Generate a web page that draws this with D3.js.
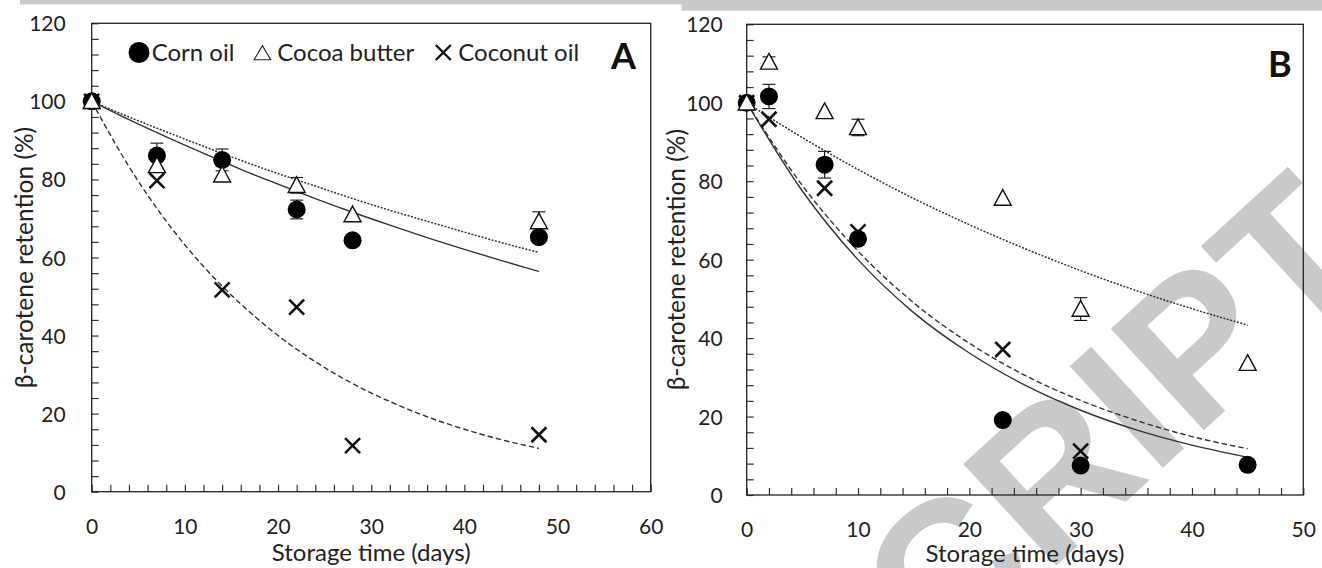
<!DOCTYPE html>
<html><head><meta charset="utf-8">
<script src="https://cdn.jsdelivr.net/npm/d3@7"></script>
<style>
html,body{margin:0;padding:0;background:#fff;}
svg{display:block;}
text{font-family:Lato,"Open Sans",sans-serif;fill:#222;}
</style></head><body>
<svg id="chart" width="1322" height="568"></svg>
<script>
// ---------- data ----------
const daysA = [0, 7, 14, 22, 28, 48];
const cornA = [100, 86.1, 85.0, 72.3, 64.4, 65.2];
const cornSdA = [0, 3.2, 2.8, 2.4, 0, 0];
const cocoaA = [100, 83.6, 81.2, 78.5, 71.0, 69.2];
const cocoaSdA = [0, 0, 0, 2.0, 0, 2.5];
const coconutA = [100, 79.7, 51.7, 47.3, 11.8, 14.6];

const daysB = [0, 2, 7, 10, 23, 30, 45];
const cornB = [100, 101.6, 84.2, 65.3, 19.1, 7.5, 7.7];
const cornSdB = [0, 3.1, 3.4, 0, 0, 0, 0];
const cocoaB = [100, 110.4, 97.8, 93.7, 75.7, 47.4, 33.6];
const cocoaSdB = [0, 1.3, 0, 2.1, 0, 2.9, 0];
const coconutDaysB = [0, 2, 7, 10, 23, 30];
const coconutB = [100, 95.8, 78.2, 67.1, 37.1, 11.2];

// fitted curves
const fitDaysA = [0, 4, 8, 12, 16, 20, 24, 28, 32, 36, 40, 44, 48];
const fitCornA = [100, 95.3, 90.9, 86.7, 82.6, 78.8, 75.1, 71.6, 68.3, 65.1, 62.1, 59.2, 56.4];
const fitCocoaA = [100, 96.0, 92.2, 88.5, 84.9, 81.5, 78.3, 75.1, 72.1, 69.3, 66.5, 63.8, 61.3];
const fitCoconutA = [100, 83.3, 69.3, 57.7, 48.1, 40.0, 33.3, 27.7, 23.1, 19.2, 16.0, 13.3, 11.1];

const fitDaysB = [0, 5, 10, 15, 20, 25, 30, 35, 40, 45];
const fitCornB = [100, 77.5, 60.0, 46.5, 36.2, 28.0, 21.6, 16.6, 12.7, 9.6];
const fitCocoaB = [100, 91.1, 83.0, 75.6, 68.9, 62.8, 57.2, 52.1, 47.5, 43.3];
const fitCoconutB = [100, 78.9, 62.2, 49.0, 38.7, 30.5, 24.1, 19.0, 14.9, 11.8];

const xTicksA = [0, 10, 20, 30, 40, 50, 60];
const xTicksB = [0, 10, 20, 30, 40, 50];
const yTicks = [0, 20, 40, 60, 80, 100, 120];
const legendLabels = ["Corn oil", "Cocoa butter", "Coconut oil"];
const panelLabels = ["A", "B"];
const xTitle = "Storage time (days)";
const yTitle = "β-carotene retention (%)";
const watermarkText = "CRIPT";

// ---------- drawing ----------
const svg = d3.select("#chart");
svg.append("rect").attr("width", 1322).attr("height", 568).attr("fill", "#fff");

// grey strips at the top (page crop remains)
svg.append("rect").attr("x", 20).attr("y", 0).attr("width", 662).attr("height", 4.4).attr("fill", "#c8c9cb");
svg.append("rect").attr("x", 681.5).attr("y", 0).attr("width", 641).attr("height", 10.7).attr("fill", "#c8c9cb");

// watermark (behind)
svg.append("text").text(watermarkText)
  .attr("transform", "translate(940,672) rotate(-42.5)")
  .style("font-family", "'Liberation Sans',Arial,sans-serif")
  .style("font-weight", "bold").style("font-size", "200px")
  .style("fill", "#c8c9cb");

const zip = (xs, ys, sd) => xs.map((d, i) => ({x: d, y: ys[i], sd: sd ? sd[i] : 0}));

const panels = [
  {
    label: panelLabels[0], xr: [91.7, 650.7], yr: [491.7, 23.3], xd: [0, 60], xTicks: xTicksA,
    minorX: d3.range(0, 61, 2), labelPos: [611, 69], ytPad: 26, yTitleX: 33, xTitleY: 561,
    corn: zip(daysA, cornA, cornSdA), cocoa: zip(daysA, cocoaA, cocoaSdA), coconut: zip(daysA, coconutA),
    fitCorn: zip(fitDaysA, fitCornA), fitCocoa: zip(fitDaysA, fitCocoaA), fitCoconut: zip(fitDaysA, fitCoconutA),
    legend: true
  },
  {
    label: panelLabels[1], xr: [746.7, 1303.3], yr: [495, 24.3], xd: [0, 50], xTicks: xTicksB,
    minorX: d3.range(0, 51, 2), labelPos: [1268, 76.7], ytPad: 24, yTitleX: 685, xTitleY: 562,
    corn: zip(daysB, cornB, cornSdB), cocoa: zip(daysB, cocoaB, cocoaSdB), coconut: zip(coconutDaysB, coconutB),
    fitCorn: zip(fitDaysB, fitCornB), fitCocoa: zip(fitDaysB, fitCocoaB), fitCoconut: zip(fitDaysB, fitCoconutB),
    legend: false
  }
];

const triPath = "M0,-8.5L8.5,7.2L-8.5,7.2Z";
const crossPath = "M-7.5,-7.5L7.5,7.5M-7.5,7.5L7.5,-7.5";

panels.forEach(p => {
  const x = d3.scaleLinear().domain(p.xd).range(p.xr);
  const y = d3.scaleLinear().domain([0, 120]).range(p.yr);
  const g = svg.append("g");
  const left = p.xr[0], right = p.xr[1], top = p.yr[1], bottom = p.yr[0];

  // minor ticks (inward)
  g.append("g").attr("transform", `translate(0,${bottom})`)
    .call(d3.axisBottom(x).tickValues(p.minorX).tickSize(-7).tickFormat(""))
    .call(a => a.select(".domain").remove())
    .call(a => a.selectAll("line").attr("stroke", "#333").attr("stroke-width", 1.2));
  g.append("g").attr("transform", `translate(${left},0)`)
    .call(d3.axisLeft(y).tickValues(d3.range(0, 121, 4)).tickSize(-7).tickFormat(""))
    .call(a => a.select(".domain").remove())
    .call(a => a.selectAll("line").attr("stroke", "#333").attr("stroke-width", 1.2));

  // tick labels
  g.append("g").attr("transform", `translate(0,${bottom})`)
    .call(d3.axisBottom(x).tickValues(p.xTicks).tickSize(0).tickPadding(27).tickFormat(d3.format("d")))
    .call(a => a.select(".domain").remove())
    .call(a => a.selectAll("text").style("font-size", "21px").style("font-family", "Lato").attr("fill", "#222"));
  g.append("g").attr("transform", `translate(${left},0)`)
    .call(d3.axisLeft(y).tickValues(yTicks).tickSize(0).tickPadding(p.ytPad).tickFormat(d3.format("d")))
    .call(a => a.select(".domain").remove())
    .call(a => a.selectAll("text").style("font-size", "21px").style("font-family", "Lato").attr("fill", "#222").attr("dy", "0.36em"));

  // frame
  g.append("rect").attr("x", left).attr("y", top).attr("width", right - left).attr("height", bottom - top)
    .attr("fill", "none").attr("stroke", "#222").attr("stroke-width", 1.3);

  // titles
  g.append("text").text(xTitle).attr("x", (left + right) / 2).attr("y", p.xTitleY)
    .attr("text-anchor", "middle").style("font-size", "24px");
  g.append("text").text(yTitle)
    .attr("transform", `translate(${p.yTitleX},${(top + bottom) / 2}) rotate(-90)`)
    .attr("text-anchor", "middle").style("font-size", "24.5px");

  // panel label
  g.append("text").text(p.label).attr("x", p.labelPos[0]).attr("y", p.labelPos[1])
    .style("font-size", "36px").style("font-weight", "bold").style("fill", "#111");

  // fitted lines
  const line = d3.line().x(d => x(d.x)).y(d => y(d.y)).curve(d3.curveMonotoneX);
  g.append("path").datum(p.fitCorn).attr("d", line).attr("fill", "none")
    .attr("stroke", "#333").attr("stroke-width", 1.4);
  g.append("path").datum(p.fitCocoa).attr("d", line).attr("fill", "none")
    .attr("stroke", "#333").attr("stroke-width", 1.5).attr("stroke-dasharray", "2,1.5");
  g.append("path").datum(p.fitCoconut).attr("d", line).attr("fill", "none")
    .attr("stroke", "#333").attr("stroke-width", 1.4).attr("stroke-dasharray", "5.5,3");

  // error bars
  const errBars = (data) => {
    const eb = g.append("g").attr("stroke", "#111").attr("stroke-width", 1.1).attr("fill", "none");
    data.filter(d => d.sd > 0).forEach(d => {
      eb.append("line").attr("x1", x(d.x)).attr("x2", x(d.x)).attr("y1", y(d.y - d.sd)).attr("y2", y(d.y + d.sd));
      eb.append("line").attr("x1", x(d.x) - 6.5).attr("x2", x(d.x) + 6.5).attr("y1", y(d.y + d.sd)).attr("y2", y(d.y + d.sd));
      eb.append("line").attr("x1", x(d.x) - 6.5).attr("x2", x(d.x) + 6.5).attr("y1", y(d.y - d.sd)).attr("y2", y(d.y - d.sd));
    });
  };

  // coconut (x markers)
  g.append("g").selectAll("path").data(p.coconut).join("path")
    .attr("d", crossPath).attr("transform", d => `translate(${x(d.x)},${y(d.y)})`)
    .attr("stroke", "#111").attr("stroke-width", 2.6).attr("fill", "none");
  // corn (filled circles)
  errBars(p.corn);
  g.append("g").selectAll("circle").data(p.corn).join("circle")
    .attr("cx", d => x(d.x)).attr("cy", d => y(d.y)).attr("r", 9).attr("fill", "#000");
  // cocoa (open triangles)
  errBars(p.cocoa);
  g.append("g").selectAll("path").data(p.cocoa).join("path")
    .attr("d", triPath).attr("transform", d => `translate(${x(d.x)},${y(d.y)})`)
    .attr("fill", "#fff").attr("stroke", "#111").attr("stroke-width", 1.4);

  // legend
  if (p.legend) {
    const lg = g.append("g");
    lg.append("circle").attr("cx", 139).attr("cy", 52.5).attr("r", 10.5).attr("fill", "#000");
    lg.append("text").text(legendLabels[0]).attr("x", 151.7).attr("y", 60.7).style("font-size", "24px");
    lg.append("path").attr("d", "M0,-7.2L8.3,7L-8.3,7Z").attr("transform", "translate(262.4,52.8)")
      .attr("fill", "none").attr("stroke", "#222").attr("stroke-width", 1.1);
    lg.append("text").text(legendLabels[1]).attr("x", 277.3).attr("y", 60.7).style("font-size", "24px");
    lg.append("path").attr("d", "M-7.5,-7.5L7.5,7.5M-7.5,7.5L7.5,-7.5").attr("transform", "translate(443.3,52.5)")
      .attr("stroke", "#111").attr("stroke-width", 2.4).attr("fill", "none");
    lg.append("text").text(legendLabels[2]).attr("x", 458.3).attr("y", 60.7).style("font-size", "24px");
  }
});
</script>
</body></html>
